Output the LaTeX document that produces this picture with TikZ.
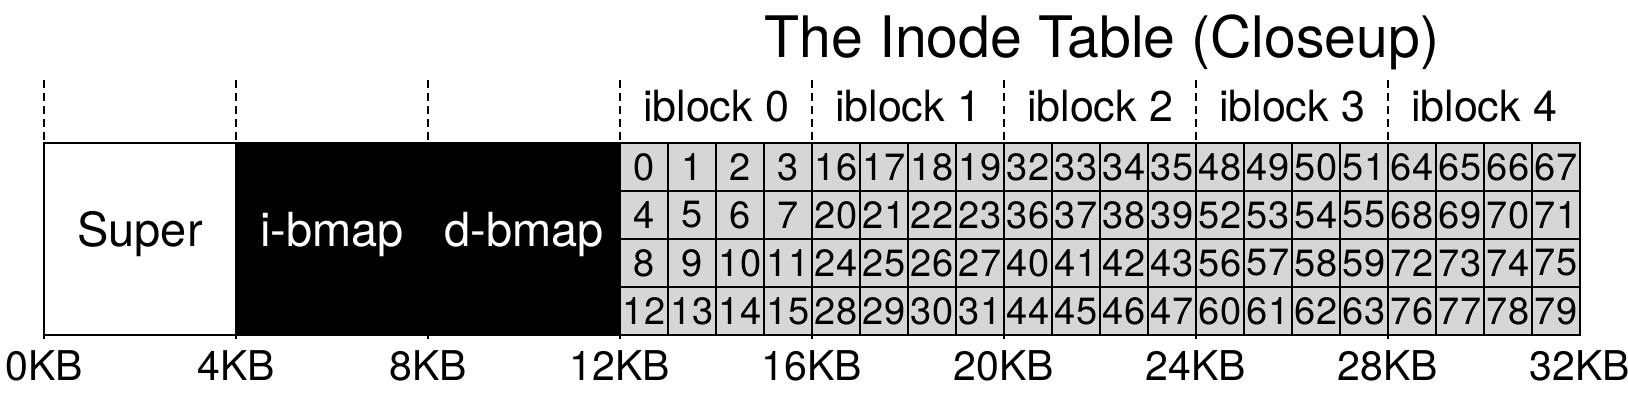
\documentclass[tikz,border=0pt]{standalone}
\usepackage{fontspec}
\setmainfont{TeX Gyre Heros}
\usetikzlibrary{positioning}

\begin{document}
\begin{tikzpicture}[x=0.5pt, y=-0.5pt,
    blk/.style={draw, line width=1pt, minimum width=96pt, minimum height=96pt, inner sep=0pt, outer sep=0pt,
      font=\fontsize{23.5}{23.5}\selectfont, text height=0.72em, text depth=0pt},
    cell/.style={draw, line width=1pt, fill=clr1, minimum size=24pt, inner sep=0pt, outer sep=0pt,
      font=\fontsize{19}{19}\selectfont},
    kb/.style={anchor=base, font=\fontsize{20.5}{20.5}\selectfont},
    ib/.style={anchor=base, font=\fontsize{21.5}{21.5}\selectfont}]
      \definecolor{clr1}{RGB}{214,214,214}
      \useasboundingbox (0,0) rectangle (1628,414);

      \node[anchor=base, font=\fontsize{28.6}{28.6}\selectfont] (title) at (1102,57) {The Inode Table (Closeup)};

      \foreach \k in {0,...,7} {
        \coordinate (top\k) at (44+192*\k,80);
        \coordinate (mid\k) at (44+192*\k,143);
        \coordinate (bot\k) at (44+192*\k,339);
        \draw[line width=1.1pt, dash pattern=on 4pt off 2.5pt] (top\k) -- (mid\k);
        \draw[line width=1pt] (mid\k) -- (bot\k);
      }

      \node[blk, fill=white] (super) at (140,239) {Super};
      \node[blk, fill=black, text=white] (ibmap) at (332,239) {i-bmap};
      \node[blk, fill=black, text=white] (dbmap) at (524,239) {d-bmap};

      \foreach \b in {0,...,4} {
        \node[ib] (ib\b) at (716+192*\b,121) {iblock \b};
        \foreach \r in {0,...,3}
          \foreach \c in {0,...,3} {
            \pgfmathtruncatemacro{\n}{16*\b+4*\r+\c}
            \node[cell] (c\n) at (644+192*\b+48*\c,167+48*\r) {\n};
          }
      }

      \draw[line width=1.1pt] (super.north west) rectangle (c79.south east);

      \foreach \k [evaluate=\k as \v using int(4*\k)] in {0,...,8}
        \node[kb] (kb\k) at (44+192*\k,380) {\v KB};
    \end{tikzpicture}
\end{document}
